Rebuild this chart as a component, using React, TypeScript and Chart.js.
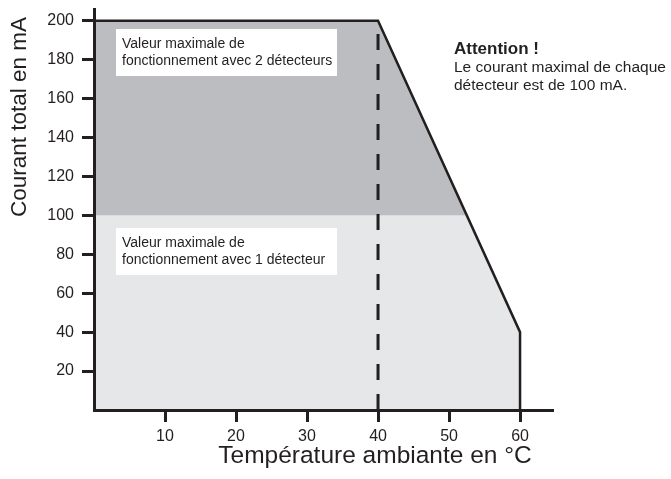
import React, { useEffect, useRef } from "react";
import { Chart, registerables } from "chart.js";

Chart.register(...registerables);

// Data
const xTicks = [10, 20, 30, 40, 50, 60];
const yTicks = [20, 40, 60, 80, 100, 120, 140, 160, 180, 200];
// Derating curve: temperature (°C) vs total current (mA)
const curveTemp = [0, 40, 60, 60];
const curveCurrent = [200, 200, 40, 0];
// Region for 2 detectors (above 100 mA)
const zone2Temp = [0, 40, 52.5];
const zone2Current = [200, 200, 100];
const zone2Base = 100;
// Dashed line at 40 °C
const dashTemp = [40, 40];
const dashCurrent = [0, 200];

const xTitle = "Température ambiante en °C";
const yTitle = "Courant total en mA";
const box2Lines = ["Valeur maximale de", "fonctionnement avec 2 détecteurs"];
const box1Lines = ["Valeur maximale de", "fonctionnement avec 1 détecteur"];
const noteTitle = "Attention !";
const noteLines = ["Le courant maximal de chaque", "détecteur est de 100 mA."];

const FONT = "'Liberation Sans', Arial, Helvetica, sans-serif";
const INK = "#231f20";

const toPts = (xs: number[], ys: number[]) => xs.map((x, i) => ({ x, y: ys[i] }));

const annotPlugin = {
  id: "annot",
  afterDatasetsDraw(chart: any) {
    const ctx = chart.ctx;
    const ca = chart.chartArea;
    ctx.save();
    // white label boxes
    const drawBox = (top: number, lines: string[]) => {
      const left = ca.left + 22;
      const w = 221;
      const h = 47;
      ctx.fillStyle = "#ffffff";
      ctx.fillRect(left, top, w, h);
      ctx.fillStyle = INK;
      ctx.font = `14px ${FONT}`;
      ctx.textBaseline = "middle";
      ctx.textAlign = "left";
      lines.forEach((l, i) => ctx.fillText(l, left + 6, top + 15 + i * 17));
    };
    drawBox(29, box2Lines);
    drawBox(228, box1Lines);

    // note
    ctx.fillStyle = INK;
    ctx.textAlign = "left";
    ctx.textBaseline = "middle";
    ctx.font = `bold 17px ${FONT}`;
    ctx.fillText(noteTitle, 454, 49);
    ctx.font = `15.5px ${FONT}`;
    noteLines.forEach((l, i) => ctx.fillText(l, 454, 68 + i * 18));

    // axis titles
    ctx.font = `24.5px ${FONT}`;
    ctx.textAlign = "center";
    ctx.fillText(xTitle, 375, 456);
    ctx.save();
    ctx.translate(20, 117);
    ctx.rotate(-Math.PI / 2);
    ctx.font = `22.5px ${FONT}`;
    ctx.fillText(yTitle, 0, 0);
    ctx.restore();
    ctx.restore();
  },
};

export default function App() {
  const ref = useRef<HTMLCanvasElement | null>(null);
  useEffect(() => {
    document.body.style.margin = "0";
    const canvas = ref.current!;
    const chart = new Chart(canvas, {
      type: "line",
      data: {
        datasets: [
          {
            data: toPts(curveTemp, curveCurrent),
            borderColor: INK,
            borderWidth: 2.5,
            fill: false,
            pointRadius: 0,
            order: 0,
            borderJoinStyle: "miter",
          },
          {
            data: toPts(dashTemp, dashCurrent),
            borderColor: INK,
            borderWidth: 3,
            borderDash: [16, 14],
            fill: false,
            pointRadius: 0,
            order: 0,
          },
          {
            data: toPts(zone2Temp, zone2Current),
            borderWidth: 0,
            borderColor: "rgba(0,0,0,0)",
            backgroundColor: "#bcbdc0",
            fill: { value: zone2Base },
            pointRadius: 0,
            order: 1,
          },
          {
            data: toPts(curveTemp, curveCurrent),
            borderWidth: 0,
            borderColor: "rgba(0,0,0,0)",
            backgroundColor: "#e6e7e8",
            fill: "origin",
            pointRadius: 0,
            order: 2,
          },
        ],
      },
      options: {
        responsive: false,
        animation: false,
        devicePixelRatio: 1,
        layout: { padding: { left: 34, top: 9, right: 119, bottom: 29 } },
        plugins: { legend: { display: false }, tooltip: { enabled: false } },
        scales: {
          x: {
            type: "linear",
            min: 0,
            max: 64.5,
            afterBuildTicks: (s: any) => {
              s.ticks = xTicks.map((v) => ({ value: v }));
            },
            afterFit: (s: any) => {
              s.height = 40;
              s.paddingLeft = 0;
              s.paddingRight = 0;
            },
            grid: {
              drawOnChartArea: false,
              drawTicks: true,
              tickLength: 12,
              lineWidth: 3,
              color: INK,
              z: 1,
            },
            border: { display: true, width: 3, color: INK, z: 1 },
            ticks: { color: INK, padding: 5, font: { family: FONT, size: 16 }, maxRotation: 0 },
          },
          y: {
            type: "linear",
            min: 0,
            max: 206,
            afterBuildTicks: (s: any) => {
              s.ticks = yTicks.map((v) => ({ value: v }));
            },
            afterFit: (s: any) => {
              s.width = 60;
              s.paddingTop = 0;
              s.paddingBottom = 0;
            },
            grid: {
              drawOnChartArea: false,
              drawTicks: true,
              tickLength: 12,
              lineWidth: 3,
              color: INK,
              z: 1,
            },
            border: { display: true, width: 3, color: INK, z: 1 },
            ticks: { color: INK, padding: 8, font: { family: FONT, size: 16 } },
          },
        },
      },
      plugins: [annotPlugin],
    } as any);
    return () => chart.destroy();
  }, []);
  return (
    <div style={{ width: 671, height: 479 }}>
      <canvas ref={ref} width={671} height={479} />
    </div>
  );
}
